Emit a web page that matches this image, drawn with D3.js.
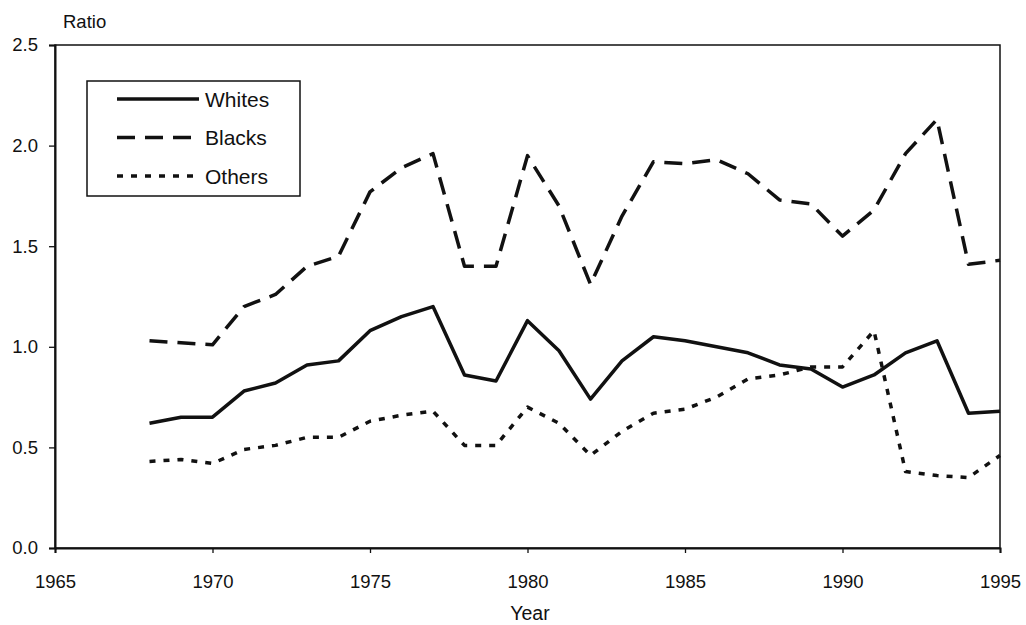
<!DOCTYPE html>
<html>
<head>
<meta charset="utf-8">
<script src="https://cdn.jsdelivr.net/npm/d3@7"></script>
<style>
  body { margin: 0; background: #fff; }
  svg text { font-family: "Liberation Sans", Arial, Helvetica, sans-serif; fill: #111; }
</style>
</head>
<body>
<svg id="chart" width="1026" height="625"></svg>
<script>
const years = d3.range(1968, 1996);
const whites = [0.62, 0.65, 0.65, 0.78, 0.82, 0.91, 0.93, 1.08, 1.15, 1.20, 0.86, 0.83, 1.13, 0.98, 0.74, 0.93, 1.05, 1.03, 1.00, 0.97, 0.91, 0.89, 0.80, 0.86, 0.97, 1.03, 0.67, 0.68];
const blacks = [1.03, 1.02, 1.01, 1.20, 1.26, 1.40, 1.45, 1.77, 1.89, 1.96, 1.40, 1.40, 1.95, 1.70, 1.31, 1.65, 1.92, 1.91, 1.93, 1.86, 1.73, 1.71, 1.55, 1.68, 1.96, 2.13, 1.41, 1.43];
const others = [0.43, 0.44, 0.42, 0.49, 0.51, 0.55, 0.55, 0.63, 0.66, 0.68, 0.51, 0.51, 0.70, 0.62, 0.46, 0.58, 0.67, 0.69, 0.75, 0.84, 0.86, 0.90, 0.90, 1.08, 0.38, 0.36, 0.35, 0.46];
const xTicks = [1965, 1970, 1975, 1980, 1985, 1990, 1995];
const yTicks = [0.0, 0.5, 1.0, 1.5, 2.0, 2.5];
const seriesNames = ["Whites", "Blacks", "Others"];

const svg = d3.select("#chart");
const mLeft = 55, mRight = 1000, mTop = 45, mBottom = 548;
const x = d3.scaleLinear().domain([1965, 1995]).range([mLeft, mRight]);
const y = d3.scaleLinear().domain([0, 2.5]).range([mBottom, mTop]);

// Frame
svg.append("rect").attr("x", mLeft).attr("y", mTop)
  .attr("width", mRight - mLeft).attr("height", mBottom - mTop)
  .attr("fill", "none").attr("stroke", "#111").attr("stroke-width", 1.5);

// Axes
const xAxis = d3.axisBottom(x).tickValues(xTicks).tickFormat(d3.format("d")).tickSize(5).tickPadding(22);
const gx = svg.append("g").attr("transform", `translate(0,${mBottom})`).call(xAxis);
const yAxis = d3.axisLeft(y).tickValues(yTicks).tickFormat(d3.format(".1f")).tickSize(6).tickPadding(11);
const gy = svg.append("g").attr("transform", `translate(${mLeft},0)`).call(yAxis);
[gx, gy].forEach(g => {
  g.select(".domain").attr("stroke", "#111").attr("stroke-width", 2);
  g.selectAll(".tick line").attr("stroke", "#111").attr("stroke-width", 1.3);
  g.selectAll(".tick text").style("font-size", "18.5px").attr("fill", "#111");
});

// Axis titles
svg.append("text").attr("x", 63).attr("y", 28).style("font-size", "18.5px").text("Ratio");
svg.append("text").attr("x", 530).attr("y", 620).attr("text-anchor", "middle").style("font-size", "19.5px").text("Year");

// Lines
const styles = [
  { name: "Whites", data: whites, dash: null },
  { name: "Blacks", data: blacks, dash: "18,10" },
  { name: "Others", data: others, dash: "6,8" }
];
const line = d3.line().x((d, i) => x(years[i])).y(d => y(d));
styles.forEach(s => {
  svg.append("path").datum(s.data)
    .attr("d", line)
    .attr("fill", "none")
    .attr("stroke", "#111")
    .attr("stroke-width", 3.5)
    .attr("stroke-linejoin", "round")
    .attr("stroke-dasharray", s.dash);
});

// Legend
const lg = svg.append("g");
lg.append("rect").attr("x", 87).attr("y", 81).attr("width", 213).attr("height", 115)
  .attr("fill", "#fff").attr("stroke", "#111").attr("stroke-width", 1.5);
styles.forEach((s, i) => {
  const ly = 99 + i * 38.5;
  lg.append("line").attr("x1", 117).attr("x2", 199).attr("y1", ly).attr("y2", ly)
    .attr("stroke", "#111").attr("stroke-width", 3.5).attr("stroke-dasharray", s.dash);
  lg.append("text").attr("x", 205).attr("y", ly + 7.5).style("font-size", "21px").text(seriesNames[i]);
});
</script>
</body>
</html>
